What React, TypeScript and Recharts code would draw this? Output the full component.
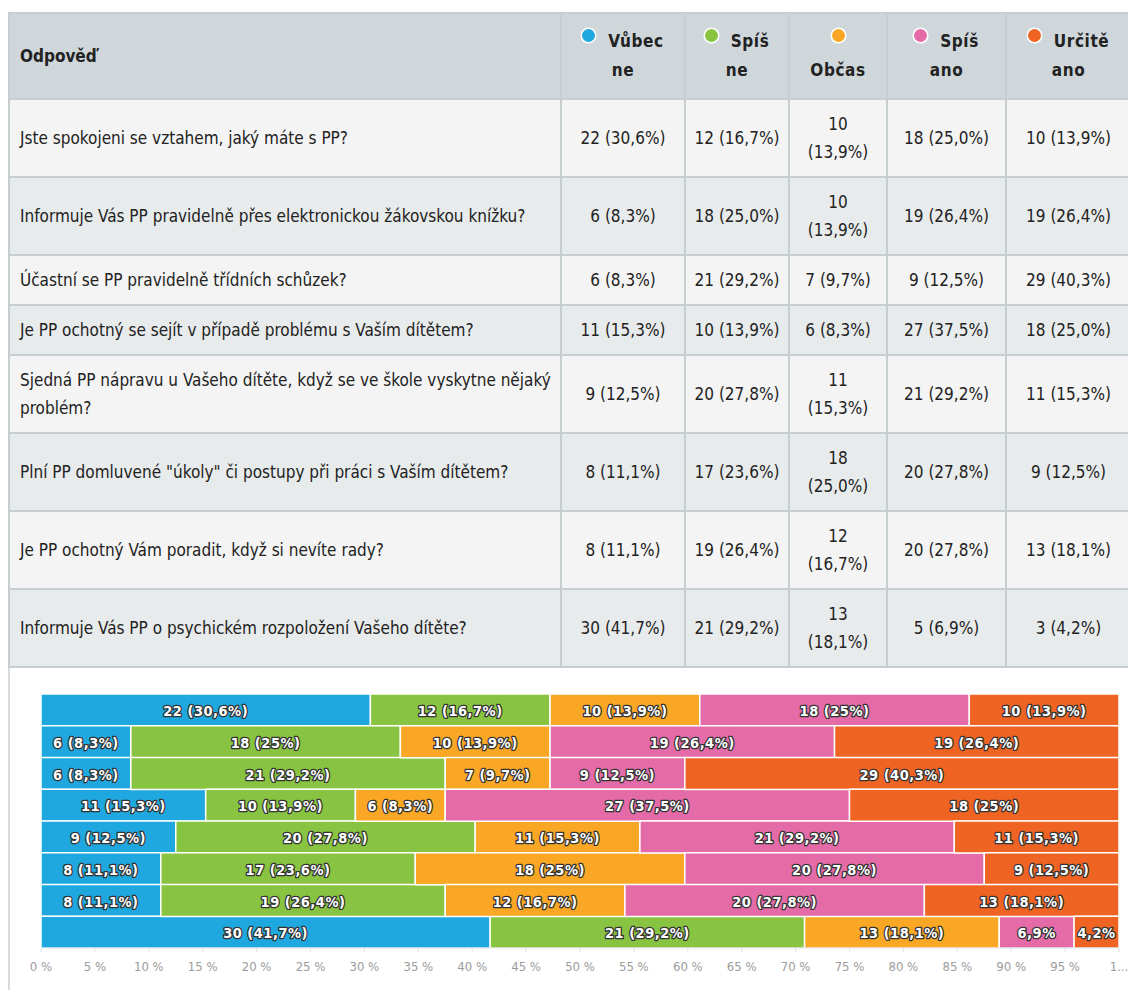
import React from 'react';
import { Bar, BarChart, CartesianGrid, LabelList, XAxis, YAxis } from 'recharts';

const questions = [
  'Jste spokojeni se vztahem, jaký máte s PP?',
  'Informuje Vás PP pravidelně přes elektronickou žákovskou knížku?',
  'Účastní se PP pravidelně třídních schůzek?',
  'Je PP ochotný se sejít v případě problému s Vaším dítětem?',
  'Sjedná PP nápravu u Vašeho dítěte, když se ve škole vyskytne nějaký problém?',
  'Plní PP domluvené "úkoly" či postupy při práci s Vaším dítětem?',
  'Je PP ochotný Vám poradit, když si nevíte rady?',
  'Informuje Vás PP o psychickém rozpoložení Vašeho dítěte?',
];

const vubecNe = [22, 6, 6, 11, 9, 8, 8, 30];
const spisNe = [12, 18, 21, 10, 20, 17, 19, 21];
const obcas = [10, 10, 7, 6, 11, 18, 12, 13];
const spisAno = [18, 19, 9, 27, 21, 20, 20, 5];
const urciteAno = [10, 19, 29, 18, 11, 9, 13, 3];

const xTicks = [0, 5, 10, 15, 20, 25, 30, 35, 40, 45, 50, 55, 60, 65, 70, 75, 80, 85, 90, 95, 100];

const series = [
  { key: 'vubecNe', name: 'Vůbec ne', color: '#1fa8df', values: vubecNe },
  { key: 'spisNe', name: 'Spíš ne', color: '#88c441', values: spisNe },
  { key: 'obcas', name: 'Občas', color: '#f9a724', values: obcas },
  { key: 'spisAno', name: 'Spíš ano', color: '#e46ba8', values: spisAno },
  { key: 'urciteAno', name: 'Určitě ano', color: '#ef6423', values: urciteAno },
];

const FONT = '"DejaVu Sans Condensed", "DejaVu Sans", sans-serif';
const totals = questions.map((_, i) => series.reduce((s, se) => s + se.values[i], 0));

const pctText = (v: number, total: number, keepZero: boolean) => {
  let s = ((v / total) * 100).toFixed(1);
  if (!keepZero && s.endsWith('.0')) s = s.slice(0, -2);
  return s.replace('.', ',');
};

const colWidths = [552, 124, 104, 98, 119, 125];
const border = '2px solid #c6ced2';

function HeaderCell({ name, color }: { name: string; color: string }) {
  const [first, ...rest] = name.split(' ');
  const dot = (
    <span style={{
      display: 'inline-block', width: 13, height: 13, borderRadius: '50%', background: color,
      boxShadow: '0 0 0 1.5px #fff', verticalAlign: 'middle', marginRight: rest.length ? 13 : 0,
      position: 'relative', top: -7,
    }} />
  );
  return (
    <th style={{ border, textAlign: 'center', padding: '13px 4px', lineHeight: '29px', fontWeight: 'bold', letterSpacing: 0.6 }}>
      {rest.length ? (<>{dot}{first}<br />{rest.join(' ')}</>) : (<>{dot}<br />{name}</>)}
    </th>
  );
}

function SegmentLabel(props: any) {
  const { x, y, width, height, index, values } = props;
  const v = values[index];
  const total = totals[index];
  const text = width < 80 ? `${pctText(v, total, false)}%` : `${v} (${pctText(v, total, false)}%)`;
  return (
    <text x={x + width / 2} y={y + height / 2 + 1} textAnchor="middle" dominantBaseline="central"
      fill="#fff" stroke="#333" strokeWidth={2.6} paintOrder="stroke" strokeLinejoin="round"
      style={{ fontFamily: FONT, fontSize: 14.5, fontWeight: 'bold', letterSpacing: 0.5 }}>
      {text}
    </text>
  );
}

export default function App() {
  const data = questions.map((q, i) => ({
    q,
    vubecNe: vubecNe[i],
    spisNe: spisNe[i],
    obcas: obcas[i],
    spisAno: spisAno[i],
    urciteAno: urciteAno[i],
  }));

  return (
    <div style={{ position: 'fixed', left: 0, top: 0, width: 1128, height: 990, overflow: 'hidden', background: '#fff', fontFamily: FONT, color: '#222' }}>
      <div style={{ position: 'absolute', left: 8, top: 668, width: 2, height: 322, background: '#d6dbde' }} />
      <table style={{
        position: 'absolute', left: 8, top: 12, borderCollapse: 'collapse', tableLayout: 'fixed',
        width: colWidths.reduce((a, b) => a + b, 0), fontSize: 17,
      }}>
        <colgroup>
          {colWidths.map((w, i) => <col key={i} style={{ width: w }} />)}
        </colgroup>
        <thead>
          <tr style={{ background: '#cfd7db' }}>
            <th style={{ border, textAlign: 'left', padding: '13px 10px', fontWeight: 'bold' }}>Odpověď</th>
            {series.map((s) => <HeaderCell key={s.key} name={s.name} color={s.color} />)}
          </tr>
        </thead>
        <tbody>
          {questions.map((q, i) => (
            <tr key={i} style={{ background: i % 2 === 0 ? '#f4f4f4' : '#e8ebec' }}>
              <td style={{ border, padding: '10px 8px 10px 10px', lineHeight: '28px' }}>{q}</td>
              {series.map((s) => (
                <td key={s.key} style={{
                  border, padding: s.key === 'obcas' ? '10px 12px' : '10px 4px',
                  lineHeight: '28px', textAlign: 'center',
                }}>
                  {s.values[i]} ({pctText(s.values[i], totals[i], true)}%)
                </td>
              ))}
            </tr>
          ))}
        </tbody>
      </table>
      <div style={{ position: 'absolute', left: 0, top: 668 }}>
        <BarChart layout="vertical" width={1128} height={322} data={data} stackOffset="expand"
          barCategoryGap={0} margin={{ top: 26, right: 9, left: 41, bottom: 0 }}>
          <CartesianGrid horizontal={false} stroke="#e6e9ec" />
          <XAxis type="number" domain={[0, 1]} ticks={xTicks.map((t) => t / 100)} height={42}
            tickFormatter={(v: number) => (v >= 1 ? '1...' : `${Math.round(v * 100)} %`)}
            tick={{ fill: '#9c9c9c', fontSize: 13, fontFamily: FONT }}
            axisLine={{ stroke: '#dfe4ea' }} tickLine={{ stroke: '#dfe4ea' }} tickSize={4} tickMargin={10}
            interval={0} />
          <YAxis type="category" dataKey="q" hide />
          {series.map((s) => (
            <Bar key={s.key} dataKey={s.key} name={s.name} stackId="a" fill={s.color}
              stroke="#fff" strokeWidth={1.5} isAnimationActive={false}>
              <LabelList dataKey={s.key} content={(p: any) => <SegmentLabel {...p} values={s.values} />} />
            </Bar>
          ))}
        </BarChart>
      </div>
    </div>
  );
}
